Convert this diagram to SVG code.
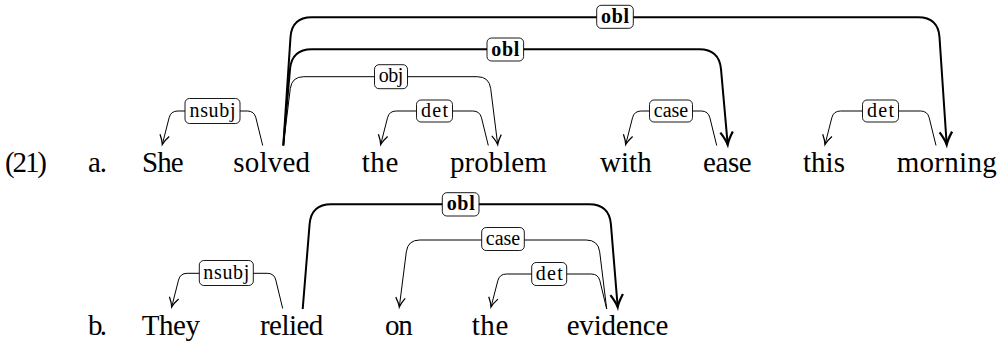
<svg xmlns="http://www.w3.org/2000/svg" width="1006" height="343" viewBox="0 0 1006 343">
<style>
.w{font-family:"Liberation Serif","Times New Roman",serif;font-size:29px;fill:#000}
.lb{font-family:"Liberation Serif","Times New Roman",serif;font-size:20px;fill:#000;text-anchor:middle}
.b{font-weight:bold}
.e{fill:none;stroke:#000;stroke-width:1}
.t{fill:none;stroke:#000;stroke-width:2}
.box{fill:#fff;stroke:#000;stroke-width:0.9}
</style>
<defs>
<marker id="ah" markerUnits="userSpaceOnUse" orient="auto" markerWidth="20" markerHeight="20" refX="0" refY="0" viewBox="-12 -8 16 16" overflow="visible">
<path d="M-7.5,-3.8 Q-3,-0.8 0,0 Q-3,0.8 -7.5,3.8" fill="none" stroke="#000" stroke-width="1"/>
</marker>
<marker id="ahb" markerUnits="userSpaceOnUse" orient="auto" markerWidth="20" markerHeight="20" refX="0" refY="0" viewBox="-12 -8 16 16" overflow="visible">
<path d="M-10,-5 Q-4,-1.2 0,0 Q-4,1.2 -10,5" fill="none" stroke="#000" stroke-width="1.8"/>
</marker>
</defs>

<g id="number">
<text class="w" x="5" y="171.5" textLength="42">(21)</text>
<text class="w" x="88" y="171.5" textLength="19">a.</text>
<text class="w" x="88" y="334.5" textLength="19">b.</text>
</g>

<g id="row-a">
<g id="a-She"><text class="w" x="142" y="171.5" textLength="41.6">She</text></g>
<g id="a-solved"><text class="w" x="233.3" y="171.5" textLength="76.7">solved</text></g>
<g id="a-the"><text class="w" x="361.7" y="171.5" textLength="36.6">the</text></g>
<g id="a-problem"><text class="w" x="450" y="171.5" textLength="96.7">problem</text></g>
<g id="a-with"><text class="w" x="600" y="171.5" textLength="51.7">with</text></g>
<g id="a-ease"><text class="w" x="703" y="171.5" textLength="48.7">ease</text></g>
<g id="a-this"><text class="w" x="803" y="171.5" textLength="42">this</text></g>
<g id="a-morning"><text class="w" x="896.7" y="171.5" textLength="100">morning</text></g>
</g>

<g id="row-b">
<g id="b-They"><text class="w" x="141.7" y="334.5" textLength="58.3">They</text></g>
<g id="b-relied"><text class="w" x="260" y="334.5" textLength="63.3">relied</text></g>
<g id="b-on"><text class="w" x="385" y="334.5" textLength="27.7">on</text></g>
<g id="b-the"><text class="w" x="471.7" y="334.5" textLength="36.6">the</text></g>
<g id="b-evidence"><text class="w" x="566.7" y="334.5" textLength="101.6">evidence</text></g>
</g>

<g id="connectors">
<!-- row a -->
<g id="e-a-nsubj">
<path class="e" marker-end="url(#ah)" d="M262.7,145.5 L255.9,117.8 Q254.2,111 247.2,111 L177.8,111 Q170.8,111 169.1,117.8 L162.3,144.5"/>
<rect class="box" x="185" y="98.5" width="55" height="25" rx="4.5"/>
<text class="lb" x="212.5" y="116.8" textLength="46">nsubj</text>
</g>
<g id="e-a-det1">
<path class="e" marker-end="url(#ah)" d="M488.3,145.5 L481.5,117.8 Q479.8,111 472.8,111 L396.2,111 Q389.2,111 387.5,117.8 L380.7,144.5"/>
<rect class="box" x="416.5" y="100" width="36" height="22" rx="4.5"/>
<text class="lb" x="434.5" y="116.8" textLength="27">det</text>
</g>
<g id="e-a-obj">
<path class="e" marker-end="url(#ah)" d="M283.3,145.5 L290.3,88.6 Q291.8,76.7 303.8,76.7 L477.2,76.7 Q489.2,76.7 490.7,88.6 L497.7,144.5"/>
<rect class="box" x="374.5" y="64.7" width="33" height="24" rx="4.5"/>
<text class="lb" x="391" y="82" textLength="24.5">obj</text>
</g>
<g id="e-a-obl1">
<path class="t" marker-end="url(#ahb)" d="M283.3,145.5 L290.0,69.2 Q291.8,49.3 311.8,49.3 L699.2,49.3 Q719.2,49.3 721.0,69.2 L727.7,144.5"/>
<rect class="box" x="487" y="38" width="36.6" height="23" rx="4.5"/>
<text class="lb b" x="505.3" y="55.5" textLength="28">obl</text>
</g>
<g id="e-a-obl2">
<path class="t" marker-end="url(#ahb)" d="M283.3,145.5 L290.5,37.3 Q291.8,17.3 311.8,17.3 L918.2,17.3 Q938.2,17.3 939.5,37.3 L946.7,144.5"/>
<rect class="box" x="596.7" y="5.3" width="36.6" height="23" rx="4.5"/>
<text class="lb b" x="615" y="22.8" textLength="28">obl</text>
</g>
<g id="e-a-case">
<path class="e" marker-end="url(#ah)" d="M716.7,145.5 L709.9,117.8 Q708.2,111 701.2,111 L641.2,111 Q634.2,111 632.5,117.8 L625.7,144.5"/>
<rect class="box" x="649.5" y="100" width="43" height="22" rx="4.5"/>
<text class="lb" x="671" y="116.8" textLength="34.5">case</text>
</g>
<g id="e-a-det2">
<path class="e" marker-end="url(#ah)" d="M936,145.5 L929.2,117.8 Q927.5,111 920.5,111 L840.5,111 Q833.5,111 831.8,117.8 L825,144.5"/>
<rect class="box" x="862.5" y="100" width="36" height="22" rx="4.5"/>
<text class="lb" x="880.5" y="116.8" textLength="27">det</text>
</g>
<!-- row b -->
<g id="e-b-nsubj">
<path class="e" marker-end="url(#ah)" d="M282.7,308.5 L275.8,280.1 Q274.2,273.3 267.2,273.3 L187.2,273.3 Q180.2,273.3 178.5,280.1 L171.7,307"/>
<rect class="box" x="199.3" y="260.5" width="54" height="25" rx="4.5"/>
<text class="lb" x="226.3" y="278.8" textLength="46">nsubj</text>
</g>
<g id="e-b-obl">
<path class="t" marker-end="url(#ahb)" d="M302.7,309 L309.6,224.2 Q311.2,204.3 331.2,204.3 L589.2,204.3 Q609.2,204.3 610.9,224.2 L617.7,307"/>
<rect class="box" x="442.3" y="192.7" width="36.7" height="23.3" rx="4.5"/>
<text class="lb b" x="460.7" y="210.3" textLength="28">obl</text>
</g>
<g id="e-b-case">
<path class="e" marker-end="url(#ah)" d="M606.7,309 L599.7,251.9 Q598.2,240 586.2,240 L419.8,240 Q407.8,240 406.3,251.9 L399.3,307"/>
<rect class="box" x="481.7" y="227.5" width="42.6" height="23" rx="4.5"/>
<text class="lb" x="503" y="244.8" textLength="34.5">case</text>
</g>
<g id="e-b-det">
<path class="e" marker-end="url(#ah)" d="M606.7,309 L599.9,280.8 Q598.2,274 591.2,274 L506.5,274 Q499.5,274 497.8,280.8 L491,307"/>
<rect class="box" x="531.7" y="262.5" width="35" height="23" rx="4.5"/>
<text class="lb" x="549.2" y="279.8" textLength="27">det</text>
</g>
</g>
</svg>
